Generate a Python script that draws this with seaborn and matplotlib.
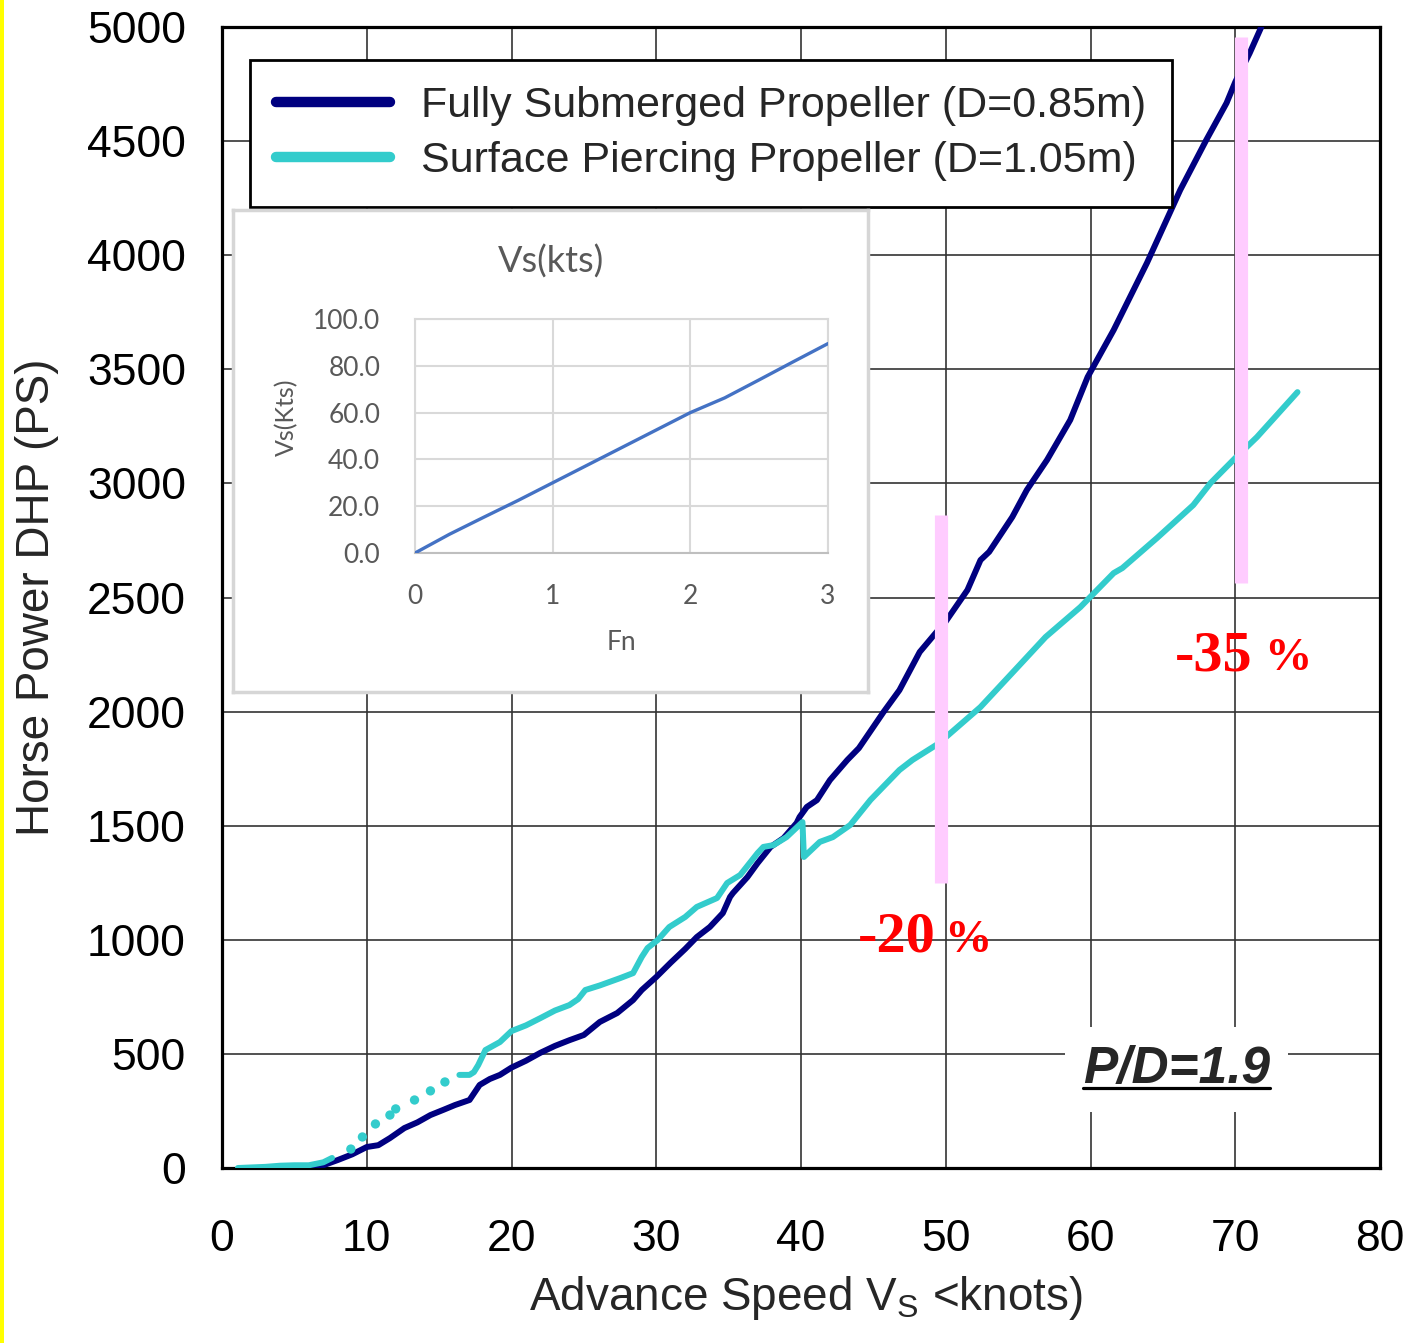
import numpy as np
import pandas as pd
import matplotlib
matplotlib.use("Agg")
import matplotlib.pyplot as plt
import seaborn as sns
from matplotlib.lines import Line2D
from matplotlib.patches import Rectangle
from matplotlib.transforms import IdentityTransform

# ---------------- data ----------------
fsp_speed = [6.2, 7, 8, 9, 10, 10.8, 11.6, 12.6, 13.5, 14.4, 15.3, 16.1, 17.1, 17.8, 18.5,
             19.2, 20, 21, 22, 23, 24, 25, 26.1, 27.3, 28.4, 29, 30, 31, 32, 32.8, 33.7,
             34.6, 35.1, 35.3, 36.3, 37, 37.9, 38.8, 39.7, 39.9, 40.4, 41.1, 42, 43.2,
             44, 45.7, 46.8, 48.2, 49.3, 50, 51.5, 52.4, 53, 54.6, 55.6, 57, 58.6, 59.8,
             61.6, 63.9, 66.2, 68.0, 69.4, 70.0, 71.0, 71.8]
fsp_power = [0, 12, 35, 60, 92, 100, 131, 175, 200, 232, 255, 276, 298, 364, 390,
             408, 440, 470, 505, 535, 560, 583, 640, 679, 736, 780, 837, 900, 960, 1012, 1056,
             1117, 1188, 1205, 1275, 1336, 1407, 1446, 1512, 1538, 1582, 1612, 1700, 1788,
             1840, 1998, 2094, 2261, 2344, 2395, 2533, 2664, 2700, 2853, 2971, 3103, 3278, 3466,
             3672, 3966, 4286, 4505, 4667, 4759, 4886, 5000]

spp_low_speed = [1.1, 3, 4, 5, 6, 7, 7.6]
spp_low_power = [0, 5, 10, 12, 12, 25, 44]

spp_dot_speed = [8.9, 9.7, 10.6, 11.6, 12.0, 13.3, 14.4, 15.4]
spp_dot_power = [83, 136, 193, 232, 259, 298, 338, 377]

spp_speed = [16.4, 17.1, 17.4, 17.7, 18.2, 19.2, 20, 21, 22, 23, 24, 24.6, 25.1, 26.1,
             27.5, 28.4, 29, 29.4, 30.1, 30.9, 32, 32.8, 34.2, 34.9, 35.8, 37, 37.4, 38.1,
             39, 40.1, 40.2, 41.3, 42.2, 43.4, 44.8, 46.8, 47.7, 49.5, 52.4, 55.1, 56.9,
             59.3, 61.6, 62.2, 64.6, 67.1, 68.3, 70.0, 71.5, 74.3]
spp_power = [408, 408, 420, 451, 517, 552, 600, 625, 657, 690, 714, 740, 780, 800,
             832, 854, 925, 964, 999, 1056, 1100, 1144, 1183, 1249, 1284, 1380, 1407, 1415,
             1450, 1516, 1363, 1429, 1450, 1503, 1613, 1744, 1788, 1860, 2020, 2204, 2327,
             2458, 2607, 2629, 2761, 2905, 3002, 3111, 3203, 3400]

inset_fn = [0, 0.25, 0.5, 0.75, 1, 1.25, 1.5, 1.75, 2, 2.25, 2.5, 2.75, 3]
inset_vs = [0, 8, 15.3, 22.5, 30, 37.5, 45, 52.5, 60, 66.3, 74.0, 81.8, 89.5]

x_ticks = [0, 10, 20, 30, 40, 50, 60, 70, 80]
y_ticks = [0, 500, 1000, 1500, 2000, 2500, 3000, 3500, 4000, 4500, 5000]
inset_x_ticks = [0, 1, 2, 3]
inset_y_ticks = [0, 20, 40, 60, 80, 100]

bar_speed = [49.7, 70.4]
bar_low = [1249, 2564]
bar_high = [2862, 4957]
pct_labels = ["-20", "-35"]
pct_x = [43.9, 65.8]
pct_y = [947, 2182]
pct_sign_x = [49.9, 72.0]

labels = ["Fully Submerged Propeller (D=0.85m)", "Surface Piercing Propeller (D=1.05m)"]

NAVY = "#000080"
CYAN = "#33CCCC"

# ---------------- style ----------------
sns.set_theme(style="white")
plt.rcParams['font.family'] = ['Liberation Sans', 'DejaVu Sans']

W, H = 1412, 1343
fig = plt.figure(figsize=(W / 100, H / 100), dpi=100)
fig.patch.set_facecolor("white")
fig.patches.append(Rectangle((0, 0), 4 / W, 1, transform=fig.transFigure,
                             facecolor="#FFFF00", edgecolor="none"))

ax = fig.add_axes([222 / W, 1 - 1168 / H, 1158 / W, 1141 / H])
ax.set_facecolor("white")

sns.lineplot(x=fsp_speed, y=fsp_power, ax=ax, color=NAVY, lw=4.3, sort=False,
             estimator=None, zorder=3)
sns.lineplot(x=spp_low_speed, y=spp_low_power, ax=ax, color=CYAN, lw=4.3, sort=False,
             estimator=None, zorder=3)
sns.lineplot(x=spp_speed, y=spp_power, ax=ax, color=CYAN, lw=4.3, sort=False,
             estimator=None, zorder=3)
sns.scatterplot(x=spp_dot_speed, y=spp_dot_power, ax=ax, color=CYAN, s=45,
                edgecolor="none", zorder=3)

ax.vlines(bar_speed, bar_low, bar_high, colors="#FFCCFF", lw=9.5, zorder=4,
          capstyle="butt")

for lab, xx, yy, sx in zip(pct_labels, pct_x, pct_y, pct_sign_x):
    ax.text(xx, yy, lab, color="#FF0000", fontsize=42, fontweight="bold",
            family=["Liberation Serif", "DejaVu Serif"], ha="left", va="baseline", zorder=6)
    ax.text(sx, yy, "%", color="#FF0000", fontsize=34, fontweight="bold",
            family=["Liberation Serif", "DejaVu Serif"], ha="left", va="baseline", zorder=6)

pd_text = ax.text(59.5, 372, "P/D=1.9", fontsize=37, fontweight="bold", fontstyle="italic",
                  ha="left", va="baseline", zorder=6,
                  bbox=dict(facecolor="white", edgecolor="none", pad=13))

ax.set_xlim(0, 80)
ax.set_ylim(0, 5000)
ax.set_xticks(x_ticks)
ax.set_yticks(y_ticks)
ax.tick_params(axis="both", length=0, labelsize=32, colors="black")
ax.tick_params(axis="x", pad=37)
ax.tick_params(axis="y", pad=26)
ax.grid(True, color="#333333", lw=1.2)
ax.set_axisbelow(True)
for s in ax.spines.values():
    s.set_visible(True)
    s.set_color("black")
    s.set_linewidth(2.3)

ax.set_xlabel(r"Advance Speed V$_\mathregular{S}$ <knots)", fontsize=33)
ax.set_ylabel("Horse Power DHP (PS)", fontsize=33)
ax.xaxis.set_label_coords(0.504, -0.093)
ax.yaxis.set_label_coords(-0.141, 0.5)

handles = [Line2D([], [], color=NAVY, lw=7.5, solid_capstyle="round"),
           Line2D([], [], color=CYAN, lw=7.5, solid_capstyle="round")]
leg = ax.legend(handles, labels, loc="upper left",
                bbox_to_anchor=((250 - 222) / 1158, (1168 - 60) / 1141),
                borderaxespad=0, fontsize=31, frameon=True, fancybox=False,
                framealpha=1, edgecolor="black", handlelength=2.65,
                handletextpad=0.72, borderpad=0.6, labelspacing=0.36)
leg.get_frame().set_linewidth(2.0)
leg.set_zorder(7)

# ---------------- inset ----------------
ax_box = fig.add_axes([233 / W, 1 - 692 / H, 635 / W, 482 / H])
ax_box.set_facecolor("white")
ax_box.set_xticks([])
ax_box.set_yticks([])
for s in ax_box.spines.values():
    s.set_visible(True)
    s.set_color("#D6D6D6")
    s.set_linewidth(2.5)
GREY = "#595959"
ax_box.text((551 - 233) / 635, (692 - 262) / 482, "Vs(kts)", transform=ax_box.transAxes,
            ha="center", va="center", fontsize=26, color=GREY, family=["Lato", "DejaVu Sans"])

ax_in = fig.add_axes([415 / W, 1 - 553 / H, 413 / W, 234 / H])
ax_in.set_facecolor("white")
sns.lineplot(x=inset_fn, y=inset_vs, ax=ax_in, color="#4472C4", lw=2.4, sort=False,
             estimator=None, zorder=3)
ax_in.set_xlim(0, 3)
ax_in.set_ylim(0, 100)
ax_in.set_xticks(inset_x_ticks)
ax_in.set_yticks(inset_y_ticks)
ax_in.set_yticklabels([f"{v:.1f}" for v in inset_y_ticks])
for lab in ax_in.get_xticklabels() + ax_in.get_yticklabels():
    lab.set_family(["Lato", "DejaVu Sans"])
ax_in.tick_params(axis="both", length=0, labelsize=19, colors=GREY)
ax_in.tick_params(axis="x", pad=22)
ax_in.tick_params(axis="y", pad=25)
ax_in.grid(True, color="#D9D9D9", lw=1.5)
ax_in.set_axisbelow(True)
for s in ax_in.spines.values():
    s.set_visible(True)
    s.set_color("#D9D9D9")
    s.set_linewidth(1.5)
ax_in.spines["bottom"].set_color("#BFBFBF")
ax_in.set_xlabel("Fn", fontsize=19, color=GREY, family=["Lato", "DejaVu Sans"])
ax_in.set_ylabel("Vs(Kts)", fontsize=18, color=GREY, family=["Lato", "DejaVu Sans"])
ax_in.xaxis.set_label_coords(0.499, -0.33)
ax_in.yaxis.set_label_coords(-0.283, 0.58)

# underline for P/D text
fig.canvas.draw()
renderer = fig.canvas.get_renderer()
bb = pd_text.get_window_extent(renderer)
base_y = ax.transData.transform((59.5, 372))[1]
fig.add_artist(Line2D([bb.x0, bb.x1], [base_y - 5, base_y - 5], transform=IdentityTransform(),
                      color="black", lw=2.3, zorder=8))

fig.savefig("out.png", dpi=100, facecolor="white")
